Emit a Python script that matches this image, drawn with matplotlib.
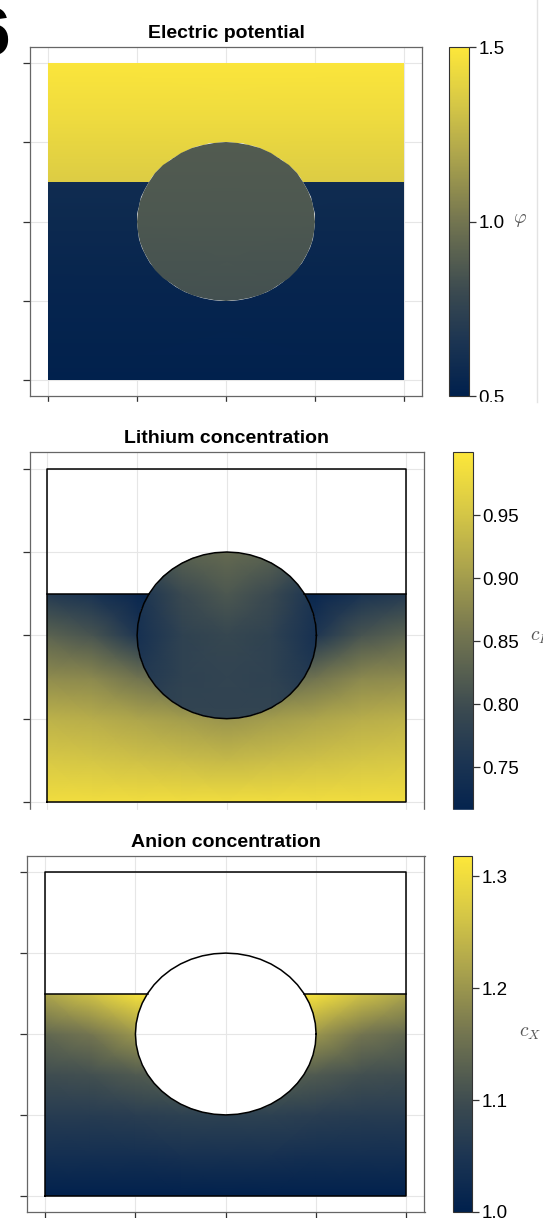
import numpy as np
import matplotlib
matplotlib.use("Agg")
import matplotlib.pyplot as plt
from matplotlib.patches import Polygon, Rectangle
from matplotlib.colors import Normalize, LinearSegmentedColormap
from matplotlib.cm import ScalarMappable
from matplotlib.lines import Line2D

plt.rcParams["font.family"] = ["Liberation Sans", "DejaVu Sans"]
plt.rcParams["mathtext.fontset"] = "cm"

W, H = 543, 1218

# cell geometry: square domain, round particle, electrolyte filled up to interface_y
domain = (-1.0, 1.0)
radius = 0.5
interface_y = 0.25
ticks = [-1, -0.5, 0, 0.5, 1]

# sample nodes
x_nodes = [-1, -0.75, -0.5, -0.25, 0, 0.25, 0.5, 0.75, 1]
y_nodes = [-1, -0.75, -0.5, -0.25, 0, 0.25]
p_nodes = [-0.5, -0.25, 0, 0.25, 0.5]

# electric potential (only varies with height)
phi_top_y = [0.25, 0.625, 1.0]
phi_top = [1.36, 1.43, 1.49]
phi_bottom_y = [-1.0, -0.375, 0.25]
phi_bottom = [0.51, 0.54, 0.59]
phi_particle_y = [-0.5, 0.0, 0.5]
phi_particle = [0.83, 0.86, 0.88]

# lithium concentration, rows from bottom (y=-1) to interface
li_electrolyte = [
    [0.985, 0.985, 0.985, 0.985, 0.985, 0.985, 0.985, 0.985, 0.985],
    [0.955, 0.950, 0.945, 0.940, 0.935, 0.940, 0.945, 0.950, 0.955],
    [0.925, 0.920, 0.910, 0.900, 0.890, 0.900, 0.910, 0.920, 0.925],
    [0.880, 0.875, 0.850, 0.830, 0.830, 0.830, 0.850, 0.875, 0.880],
    [0.830, 0.810, 0.760, 0.750, 0.750, 0.750, 0.760, 0.810, 0.830],
    [0.765, 0.750, 0.725, 0.720, 0.720, 0.720, 0.725, 0.750, 0.765],
]
li_particle = [
    [0.780, 0.785, 0.785, 0.785, 0.780],
    [0.760, 0.780, 0.785, 0.780, 0.760],
    [0.745, 0.780, 0.790, 0.780, 0.745],
    [0.750, 0.795, 0.815, 0.795, 0.750],
    [0.800, 0.830, 0.840, 0.830, 0.800],
]

# anion concentration, rows from bottom to interface
an_electrolyte = [
    [1.003, 1.003, 1.003, 1.003, 1.003, 1.003, 1.003, 1.003, 1.003],
    [1.035, 1.035, 1.037, 1.040, 1.040, 1.040, 1.037, 1.035, 1.035],
    [1.065, 1.065, 1.070, 1.075, 1.075, 1.075, 1.070, 1.065, 1.065],
    [1.100, 1.105, 1.120, 1.130, 1.130, 1.130, 1.120, 1.105, 1.100],
    [1.140, 1.160, 1.200, 1.210, 1.210, 1.210, 1.200, 1.160, 1.140],
    [1.220, 1.260, 1.310, 1.315, 1.315, 1.315, 1.310, 1.260, 1.220],
]

titles = ["Electric potential", "Lithium concentration", "Anion concentration"]
cbar_labels = [r"$\varphi$", r"$c_L$", r"$c_X$"]
cbar_ranges = [(0.5, 1.5), (0.709, 1.0), (1.0, 1.318)]
cbar_ticks = [[0.5, 1.0, 1.5], [0.75, 0.80, 0.85, 0.90, 0.95], [1.0, 1.1, 1.2, 1.3]]
cbar_fmt = ["{:.1f}", "{:.2f}", "{:.1f}"]

# navy -> olive -> yellow, cividis-like
cmap = LinearSegmentedColormap.from_list(
    "cividis_olive",
    [(0.0, "#00204d"), (0.15, "#1b3452"), (0.3, "#3b4a50"), (0.5, "#737550"),
     (0.7, "#b0a74c"), (0.85, "#d9ca45"), (1.0, "#fde73a")])

# pixel boxes (left, top, right, bottom)
ax_boxes = [(30, 47, 422, 396), (29.5, 452, 424, 818.7), (27, 856, 424.5, 1212)]
cax_boxes = [(449, 47, 469, 396), (453, 452, 473, 818.7), (453, 856, 472, 1212)]
label_pos = [(513, 221), (530, 637), (519, 1034)]


def px_axes(fig, box):
    l, t, r, b = box
    return fig.add_axes([l / W, 1 - b / H, (r - l) / W, (b - t) / H])


# polygons for the particle and the two sub-domains
theta = np.linspace(0, 2 * np.pi, 49)
circle = np.column_stack([radius * np.cos(theta), radius * np.sin(theta)])
a0 = np.arcsin(interface_y / radius)
xi = radius * np.cos(a0)
arc_low = np.linspace(np.pi - a0, 2 * np.pi + a0, 40)
arc_up = np.linspace(np.pi - a0, a0, 30)
lo, hi = domain
lower_poly = np.vstack([[[lo, interface_y]],
                        np.column_stack([radius * np.cos(arc_low), radius * np.sin(arc_low)]),
                        [[hi, interface_y], [hi, lo], [lo, lo]]])
upper_poly = np.vstack([[[lo, interface_y]],
                        np.column_stack([radius * np.cos(arc_up), radius * np.sin(arc_up)]),
                        [[hi, interface_y], [hi, hi], [lo, hi]]])


def field(ax, xs, ys, vals, poly, norm):
    X, Y = np.meshgrid(xs, ys)
    m = ax.pcolormesh(X, Y, np.asarray(vals), shading="gouraud", cmap=cmap,
                      norm=norm, zorder=2)
    m.set_clip_path(Polygon(poly, closed=True, transform=ax.transData))


def outline(ax):
    kw = dict(color="black", lw=1.1, zorder=4, solid_joinstyle="round")
    ax.plot([lo, hi, hi, lo, lo], [lo, lo, hi, hi, lo], **kw)
    ax.plot([lo, -xi], [interface_y, interface_y], **kw)
    ax.plot([xi, hi], [interface_y, interface_y], **kw)
    ax.plot(circle[:, 0], circle[:, 1], **kw)


fig = plt.figure(figsize=(W / 100, H / 100), dpi=100)

for i in range(3):
    ax = px_axes(fig, ax_boxes[i])
    cax = px_axes(fig, cax_boxes[i])
    norm = Normalize(*cbar_ranges[i])

    ax.set_xlim(-1.1, 1.1)
    ax.set_ylim(-1.1, 1.1)
    ax.set_xticks(ticks)
    ax.set_yticks(ticks)
    ax.tick_params(labelbottom=False, labelleft=False, direction="out",
                   length=5, width=0.9, color="#333333")
    ax.grid(True, color="#e6e6e6", lw=0.8, zorder=0)
    ax.set_axisbelow(True)
    for s in ax.spines.values():
        s.set_color("#666666")
        s.set_linewidth(0.9)
    ax.set_title(titles[i], fontsize=14, fontweight="bold", pad=6.5)

    if i == 0:
        field(ax, domain, phi_top_y, np.column_stack([phi_top, phi_top]), upper_poly, norm)
        field(ax, domain, phi_bottom_y, np.column_stack([phi_bottom, phi_bottom]), lower_poly, norm)
        field(ax, [-radius, radius], phi_particle_y,
              np.column_stack([phi_particle, phi_particle]), circle, norm)
    elif i == 1:
        field(ax, x_nodes, y_nodes, li_electrolyte, lower_poly, norm)
        field(ax, p_nodes, p_nodes, li_particle, circle, norm)
        outline(ax)
    else:
        field(ax, x_nodes, y_nodes, an_electrolyte, lower_poly, norm)
        outline(ax)

    cb = fig.colorbar(ScalarMappable(norm=norm, cmap=cmap), cax=cax,
                      ticks=cbar_ticks[i])
    cb.set_ticklabels([cbar_fmt[i].format(t) for t in cbar_ticks[i]])
    cb.outline.set_edgecolor("#333333")
    cb.outline.set_linewidth(0.8)
    cax.tick_params(direction="out", length=5, width=0.9, labelsize=13.5,
                    pad=2, color="#333333")
    lx, ly = label_pos[i]
    fig.text(lx / W, 1 - ly / H, cbar_labels[i], fontsize=14, color="#555555",
             ha="left", va="center")

# cropped panel edges
for top, bot in [(402, 426), (810, 830)]:
    fig.add_artist(Rectangle((0, 1 - bot / H), 1, (bot - top) / H,
                             transform=fig.transFigure, color="white", zorder=20))
fig.add_artist(Line2D([537 / W, 537 / W], [1, 1 - 402 / H], transform=fig.transFigure,
                      color="#e3e3e3", lw=1.0, zorder=21))

fig.text(10 / W, 1 - 55 / H, "6", fontsize=50, fontweight="bold",
         ha="right", va="baseline")

fig.savefig("out.png", dpi=100)
